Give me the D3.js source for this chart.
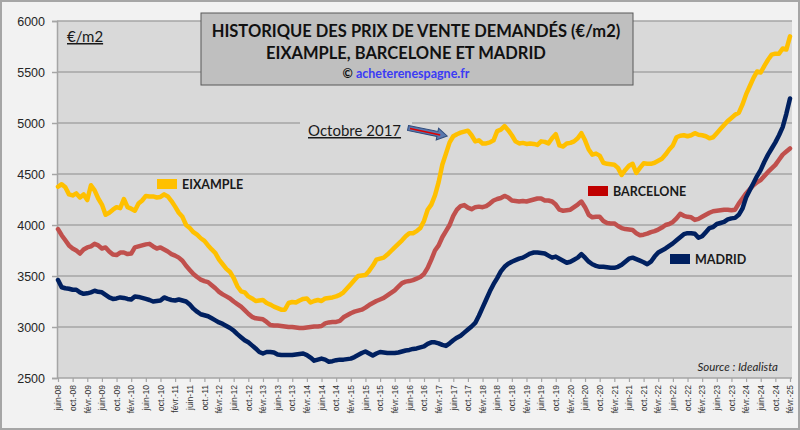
<!DOCTYPE html>
<html>
<head>
<meta charset="utf-8">
<script src="https://cdn.jsdelivr.net/npm/d3@7"></script>
<style>
  body { margin: 0; background: #fff; }
  svg { display: block; font-family: Lato, "Open Sans", sans-serif; }
</style>
</head>
<body>
<svg id="chart"></svg>
<script>
// monthly asking prices (€/m2), juin-08 .. févr.-25 (201 months)
const eixample = [
  4375, 4400, 4370, 4300, 4290, 4310, 4270, 4300, 4245, 4390, 4340, 4260,
  4200, 4100, 4120, 4150, 4175, 4165, 4255, 4175, 4160, 4140, 4210, 4240,
  4285, 4280, 4280, 4270, 4275, 4300, 4280, 4235, 4180, 4120, 4080, 4000,
  3970, 3930, 3905, 3870, 3845, 3800, 3760, 3725, 3660, 3615, 3570, 3540,
  3480, 3400, 3350, 3340, 3300, 3280, 3255, 3260, 3265, 3235, 3220, 3200,
  3185, 3170, 3170, 3235, 3245, 3240, 3260, 3275, 3280, 3240, 3255, 3265,
  3255, 3280, 3285, 3290, 3300, 3315, 3340, 3380, 3420, 3460, 3500, 3505,
  3510, 3550, 3600, 3660, 3670, 3680, 3710, 3745, 3780, 3815, 3850, 3890,
  3920, 3920, 3940, 3970, 4040, 4150, 4200, 4290, 4420, 4590, 4700, 4810,
  4870, 4890, 4905, 4915, 4925, 4880, 4820, 4830, 4800, 4800, 4810, 4830,
  4920, 4935, 4970, 4930, 4880, 4820, 4800, 4805, 4795, 4800, 4795, 4785,
  4820, 4815, 4800, 4850, 4890, 4780, 4770, 4800, 4805, 4820, 4850, 4900,
  4830, 4740, 4690, 4700, 4680, 4610, 4600, 4595, 4590, 4560, 4490, 4540,
  4580, 4600, 4510, 4560, 4605, 4600, 4600, 4610, 4630, 4650, 4690, 4740,
  4780, 4860, 4875, 4880, 4870, 4880, 4900, 4885, 4880, 4870, 4850, 4860,
  4900, 4940, 4980, 5020, 5050, 5080, 5100, 5180, 5280, 5360, 5440, 5505,
  5495, 5560, 5620, 5670, 5680, 5680, 5730, 5720, 5850
]

const barcelone = [
  3960, 3900, 3850, 3800, 3770, 3750, 3720, 3760, 3780, 3790, 3815, 3800,
  3770, 3780, 3740, 3710, 3705, 3730, 3730, 3715, 3720, 3780, 3790, 3800,
  3810, 3815, 3790, 3770, 3780, 3760, 3740, 3715, 3700, 3680, 3650, 3600,
  3560, 3520, 3490, 3465, 3450, 3440, 3410, 3380, 3345, 3320, 3300, 3280,
  3250, 3225, 3200, 3165, 3130, 3100, 3085, 3080, 3075, 3050, 3020, 3015,
  3015, 3010, 3005, 3000, 3000, 2995, 2990, 2990, 2995, 3000, 3005, 3005,
  3010, 3035, 3045, 3050, 3050, 3060, 3095, 3115, 3135, 3150, 3160, 3170,
  3190, 3215, 3235, 3255, 3270, 3285, 3310, 3335, 3360, 3395, 3430, 3445,
  3450, 3460, 3475, 3490, 3520, 3580, 3660, 3750, 3800, 3880, 3940, 4000,
  4090, 4150, 4185, 4195, 4170, 4155, 4175, 4180, 4175, 4185, 4210, 4240,
  4255, 4265, 4285, 4270, 4240, 4235, 4230, 4235, 4230, 4240, 4250, 4260,
  4260, 4240, 4240, 4230, 4200, 4150, 4140, 4145, 4150, 4175, 4200, 4230,
  4175, 4100, 4075, 4080, 4080, 4040, 4020, 4015, 4015, 3990, 3970, 3960,
  3955, 3950, 3920, 3900, 3905, 3915, 3930, 3940, 3955, 3975, 4000, 4010,
  4030, 4065, 4110, 4090, 4080, 4075, 4050, 4060, 4080, 4100, 4120, 4135,
  4140, 4145, 4150, 4150, 4145, 4150, 4210, 4260, 4310, 4350, 4390, 4420,
  4440, 4480, 4520, 4555, 4590, 4640, 4690, 4720, 4750
]

const madrid = [
  3460, 3390, 3380, 3375, 3365, 3365, 3340, 3325, 3330, 3340, 3355, 3345,
  3340, 3315, 3290, 3275, 3280, 3290, 3285, 3275, 3270, 3300, 3295, 3285,
  3275, 3265, 3250, 3255, 3260, 3290, 3275, 3265, 3260, 3270, 3260, 3250,
  3220, 3180, 3150, 3125, 3115, 3105, 3085, 3065, 3045, 3030, 3010, 2990,
  2965, 2930, 2900, 2870, 2850, 2820, 2790, 2755, 2740, 2755, 2755, 2750,
  2730, 2725, 2725, 2725, 2725, 2730, 2735, 2740, 2725, 2700, 2670, 2680,
  2690, 2680, 2660, 2665, 2675, 2680, 2680, 2685, 2690, 2705, 2725, 2745,
  2760, 2740, 2720, 2740, 2755, 2750, 2745, 2745, 2745, 2750, 2760, 2770,
  2775, 2785, 2790, 2800, 2810, 2835, 2850, 2850, 2840, 2825, 2815, 2840,
  2870, 2895, 2915, 2945, 2975, 3005, 3040, 3110, 3190, 3270, 3350, 3420,
  3480, 3545, 3590, 3620, 3640, 3655, 3670, 3680, 3700, 3720, 3730, 3730,
  3725, 3720, 3700, 3680, 3690, 3670, 3650, 3630, 3640, 3660, 3680, 3715,
  3680, 3640, 3615, 3600, 3590, 3590, 3585, 3580, 3580, 3590, 3610, 3640,
  3670, 3680, 3665, 3650, 3635, 3615, 3640, 3690, 3730, 3750, 3770, 3795,
  3820, 3850, 3880, 3910, 3920, 3920, 3915, 3875, 3890, 3930, 3970, 3980,
  4010, 4020, 4030, 4055, 4065, 4070, 4100, 4160, 4270, 4340, 4410, 4480,
  4540, 4620, 4690, 4750, 4810, 4880, 4960, 5090, 5240
]

// one label every 4 months
const tickLabels = [
  "juin-08", "oct.-08",
  "févr.-09", "juin-09", "oct.-09", "févr.-10", "juin-10", "oct.-10",
  "févr.-11", "juin-11", "oct.-11", "févr.-12", "juin-12", "oct.-12",
  "févr.-13", "juin-13", "oct.-13", "févr.-14", "juin-14", "oct.-14",
  "févr.-15", "juin-15", "oct.-15", "févr.-16", "juin-16", "oct.-16",
  "févr.-17", "juin-17", "oct.-17", "févr.-18", "juin-18", "oct.-18",
  "févr.-19", "juin-19", "oct.-19", "févr.-20", "juin-20", "oct.-20",
  "févr.-21", "juin-21", "oct.-21", "févr.-22", "juin-22", "oct.-22",
  "févr.-23", "juin-23", "oct.-23", "févr.-24", "juin-24", "oct.-24",
  "févr.-25"
]
const yTicks = [2500, 3000, 3500, 4000, 4500, 5000, 5500, 6000]

const series = [
  { name: "EIXAMPLE", values: eixample, color: "#ffc000", key: "#ffc000" },
  { name: "BARCELONE", values: barcelone, color: "#c0504d", key: "#c00000" },
  { name: "MADRID", values: madrid, color: "#002060", key: "#002060" }
]

const w = 800
const h = 430
const plot = { left: 57, right: 792, top: 21, bottom: 378 }

const svg = d3.select("#chart")
  .attr("width", w)
  .attr("height", h)

// chart background + border
svg.append("rect")
  .attr("x", 1).attr("y", 1)
  .attr("width", w - 2).attr("height", h - 2)
  .attr("fill", "#f2f2f2")
  .attr("stroke", "#a6a6a6")
  .attr("stroke-width", 2)

// plot area
svg.append("rect")
  .attr("x", plot.left).attr("y", plot.top)
  .attr("width", plot.right - plot.left).attr("height", plot.bottom - plot.top)
  .attr("fill", "#d9d9d9")

//Create scales
const xScale = d3.scaleLinear()
  .domain([0, eixample.length - 1])
  .range([plot.left + 1, 790])

const yScale = d3.scaleLinear()
  .domain([2500, 6000])
  .range([plot.bottom, plot.top])

// horizontal gridlines
svg.append("g")
  .selectAll("line")
  .data(yTicks.slice(1))
  .enter()
  .append("line")
  .attr("x1", plot.left)
  .attr("x2", plot.right)
  .attr("y1", d => yScale(d))
  .attr("y2", d => yScale(d))
  .attr("stroke", "#a5a5a5")
  .attr("stroke-width", 1.5)

//Create axis
const leftAxis = d3.axisLeft(yScale)
  .tickValues(yTicks)
  .tickSize(5)
  .tickPadding(7)
  .tickFormat(d => d)

const yAxis = svg.append("g")
  .attr("transform", `translate(${plot.left}, 0)`)
  .call(leftAxis)
yAxis.select(".domain").attr("stroke", "#a5a5a5").attr("stroke-width", 1.5)
yAxis.selectAll(".tick line").attr("stroke", "#a5a5a5").attr("stroke-width", 1.5)
yAxis.selectAll(".tick text")
  .attr("fill", "#262626")
  .style("font-size", "12.5px")

const tickIdx = tickLabels.map((d, i) => i * 4)
const bottomAxis = d3.axisBottom(xScale)
  .tickValues(tickIdx)
  .tickSize(4)
  .tickFormat((d, i) => tickLabels[i])

const xAxis = svg.append("g")
  .attr("transform", `translate(0, ${plot.bottom})`)
  .call(bottomAxis)
xAxis.select(".domain")
  .attr("d", `M${plot.left},0H${plot.right}`)
  .attr("stroke", "#a5a5a5").attr("stroke-width", 1.5)
xAxis.selectAll(".tick line").attr("stroke", "#a5a5a5").attr("stroke-width", 1.2)
xAxis.selectAll(".tick text")
  .attr("transform", "rotate(-90)")
  .attr("x", -7)
  .attr("y", 0)
  .attr("dy", "0.32em")
  .attr("text-anchor", "end")
  .attr("fill", "#333")
  .style("font-size", "8.5px")

// series lines
const line = d3.line()
  .x((d, i) => xScale(i))
  .y(d => yScale(d))

svg.append("g")
  .selectAll("path")
  .data(series)
  .enter()
  .append("path")
  .attr("d", d => line(d.values))
  .attr("fill", "none")
  .attr("stroke", d => d.color)
  .attr("stroke-width", 4.5)
  .attr("stroke-linejoin", "round")
  .attr("stroke-linecap", "round")

// labels with key boxes
const keys = [
  { s: series[0], x: 157, y: 179 },
  { s: series[1], x: 588, y: 186 },
  { s: series[2], x: 670, y: 254 }
]
keys.forEach(k => {
  svg.append("rect")
    .attr("x", k.x).attr("y", k.y)
    .attr("width", 20).attr("height", 10)
    .attr("fill", k.s.key)
  svg.append("text")
    .attr("x", k.x + 25)
    .attr("y", k.y + 9.5)
    .attr("font-weight", "bold")
    .attr("fill", "#1a1a1a")
    .style("font-size", "12.5px")
    .text(k.s.name)
})

// €/m2
svg.append("text")
  .attr("x", 67).attr("y", 42)
  .attr("fill", "#1a1a1a")
  .attr("text-decoration", "underline")
  .style("font-size", "15px")
  .text("€/m2")

// Octobre 2017 annotation (box hides gridline)
svg.append("rect")
  .attr("x", 300).attr("y", 113)
  .attr("width", 112).attr("height", 28)
  .attr("fill", "#d9d9d9")
svg.append("text")
  .attr("x", 308).attr("y", 136)
  .attr("fill", "#1a1a1a")
  .attr("text-decoration", "underline")
  .style("font-size", "15px")
  .text("Octobre 2017")

// arrow
const arrow = svg.append("g")
  .attr("transform", "translate(408,128) rotate(11.5)")
arrow.append("path")
  .attr("d", "M0,-2.5 H30 V-6 L40,0 L30,6 V2.5 H0 Z")
  .attr("fill", "#5a78ad")
  .attr("stroke", "#2f4b7c")
  .attr("stroke-width", 1)
arrow.append("line")
  .attr("x1", 2).attr("y1", 0)
  .attr("x2", 33).attr("y2", 0.5)
  .attr("stroke", "#e00000")
  .attr("stroke-width", 1.5)

// source
svg.append("text")
  .attr("x", 778).attr("y", 371)
  .attr("text-anchor", "end")
  .attr("font-style", "italic")
  .attr("fill", "#262626")
  .style("font-size", "11.5px")
  .text("Source : Idealista")

// title box
svg.append("rect")
  .attr("x", 201).attr("y", 13)
  .attr("width", 432).attr("height", 72)
  .attr("fill", "#bfbfbf")
  .attr("stroke", "#595959")
  .attr("stroke-width", 1)

svg.append("text")
  .attr("x", 416).attr("y", 37)
  .attr("text-anchor", "middle")
  .attr("font-weight", "bold")
  .attr("fill", "#111")
  .style("font-size", "16.5px")
  .text("HISTORIQUE DES PRIX DE VENTE DEMANDÉS (€/m2)")

svg.append("text")
  .attr("x", 406).attr("y", 59)
  .attr("text-anchor", "middle")
  .attr("font-weight", "bold")
  .attr("fill", "#111")
  .style("font-size", "16.5px")
  .text("EIXAMPLE, BARCELONE ET MADRID")

const credit = svg.append("text")
  .attr("x", 406).attr("y", 78)
  .attr("text-anchor", "middle")
  .attr("font-weight", "bold")
  .style("font-size", "12.5px")
credit.append("tspan").attr("fill", "#111").text("© ")
credit.append("tspan").attr("fill", "#3b3bf5").text("acheterenespagne.fr")
</script>
</body>
</html>
